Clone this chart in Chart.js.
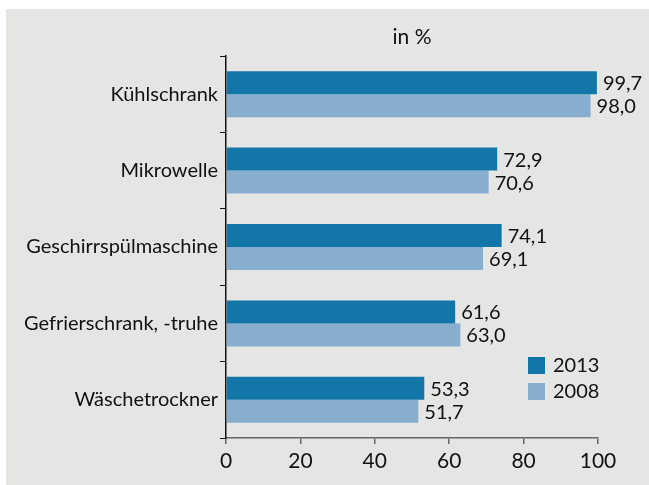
<!DOCTYPE html>
<html>
<head>
<meta charset="utf-8">
<script src="https://cdn.jsdelivr.net/npm/chart.js@4"></script>
<style>
  html, body { margin: 0; padding: 0; background: #fff; }
  #wrap { width: 649px; height: 485px; }
</style>
</head>
<body>
<div id="wrap"><canvas id="geraeteChart" width="649" height="485"></canvas></div>
<script>
// ==== DATA ====
const categories = ['Kühlschrank', 'Mikrowelle', 'Geschirrspülmaschine', 'Gefrierschrank, -truhe', 'Wäschetrockner'];
const values2013 = [99.7, 72.9, 74.1, 61.6, 53.3];
const values2008 = [98.0, 70.6, 69.1, 63.0, 51.7];
const xTicks = [0, 20, 40, 60, 80, 100];
const unitTitle = 'in %';

const FONT = "Lato, 'Open Sans', sans-serif";
const dark = '#1277a8';
const light = '#87adcf';

// grauer Hintergrund + Titel
const panelBg = {
  id: 'panelBg',
  beforeDraw(chart) {
    const c = chart.ctx;
    c.save();
    c.fillStyle = '#e5e5e4';
    c.fillRect(6, 9, chart.width - 6, chart.height - 9);
    c.font = '21px ' + FONT;
    c.fillStyle = '#111';
    c.textAlign = 'center';
    c.textBaseline = 'middle';
    const a = chart.chartArea;
    c.fillText(unitTitle, (a.left + a.right) / 2, 37);
    c.restore();
  }
};

// Werte neben den Balken
const valueLabels = {
  id: 'valueLabels',
  afterDatasetsDraw(chart) {
    const c = chart.ctx;
    c.save();
    c.font = '20px ' + FONT;
    c.fillStyle = '#111';
    c.textBaseline = 'middle';
    c.textAlign = 'left';
    chart.data.datasets.forEach((ds, di) => {
      chart.getDatasetMeta(di).data.forEach((bar, i) => {
        c.fillText(ds.data[i].toFixed(1).replace('.', ','), bar.x + 6, bar.y + 1);
      });
    });
    c.restore();
  }
};

// Legende unten rechts im Diagramm
const boxLegend = {
  id: 'boxLegend',
  afterDraw(chart) {
    const c = chart.ctx;
    c.save();
    c.font = '20px ' + FONT;
    c.textBaseline = 'middle';
    chart.data.datasets.forEach((ds, di) => {
      const y = 357 + di * 26;
      c.fillStyle = ds.backgroundColor;
      c.fillRect(528, y, 17, 17);
      c.fillStyle = '#111';
      c.fillText(ds.label, 553, y + 9);
    });
    c.restore();
  }
};

new Chart(document.getElementById('geraeteChart'), {
  type: 'bar',
  data: {
    labels: categories,
    datasets: [
      { label: '2013', data: values2013, backgroundColor: dark },
      { label: '2008', data: values2008, backgroundColor: light }
    ]
  },
  options: {
    indexAxis: 'y',
    responsive: false,
    animation: false,
    barPercentage: 1,
    categoryPercentage: 0.602,
    layout: { padding: { top: 56, right: 51, bottom: 0, left: 0 } },
    plugins: {
      legend: { display: false },
      tooltip: { enabled: false },
      title: { display: false }
    },
    scales: {
      x: {
        min: 0,
        max: 100,
        afterBuildTicks: (scale) => { scale.ticks = xTicks.map(v => ({ value: v })); },
        afterFit: (scale) => { scale.height = 47; },
        border: { display: true, color: '#666', width: 1.5 },
        grid: { drawOnChartArea: false, tickLength: 6, color: '#666', lineWidth: 1.5 },
        ticks: { color: '#111', padding: 5, font: { family: FONT, size: 21 } }
      },
      y: {
        afterFit: (scale) => { scale.width = 226; },
        border: { display: true, color: '#111', width: 1.5 },
        grid: { offset: true, drawOnChartArea: false, tickLength: 6, color: '#111', lineWidth: 1 },
        ticks: { color: '#111', padding: 2, font: { family: FONT, size: 20 } }
      }
    }
  },
  plugins: [panelBg, valueLabels, boxLegend]
});
</script>
</body>
</html>
